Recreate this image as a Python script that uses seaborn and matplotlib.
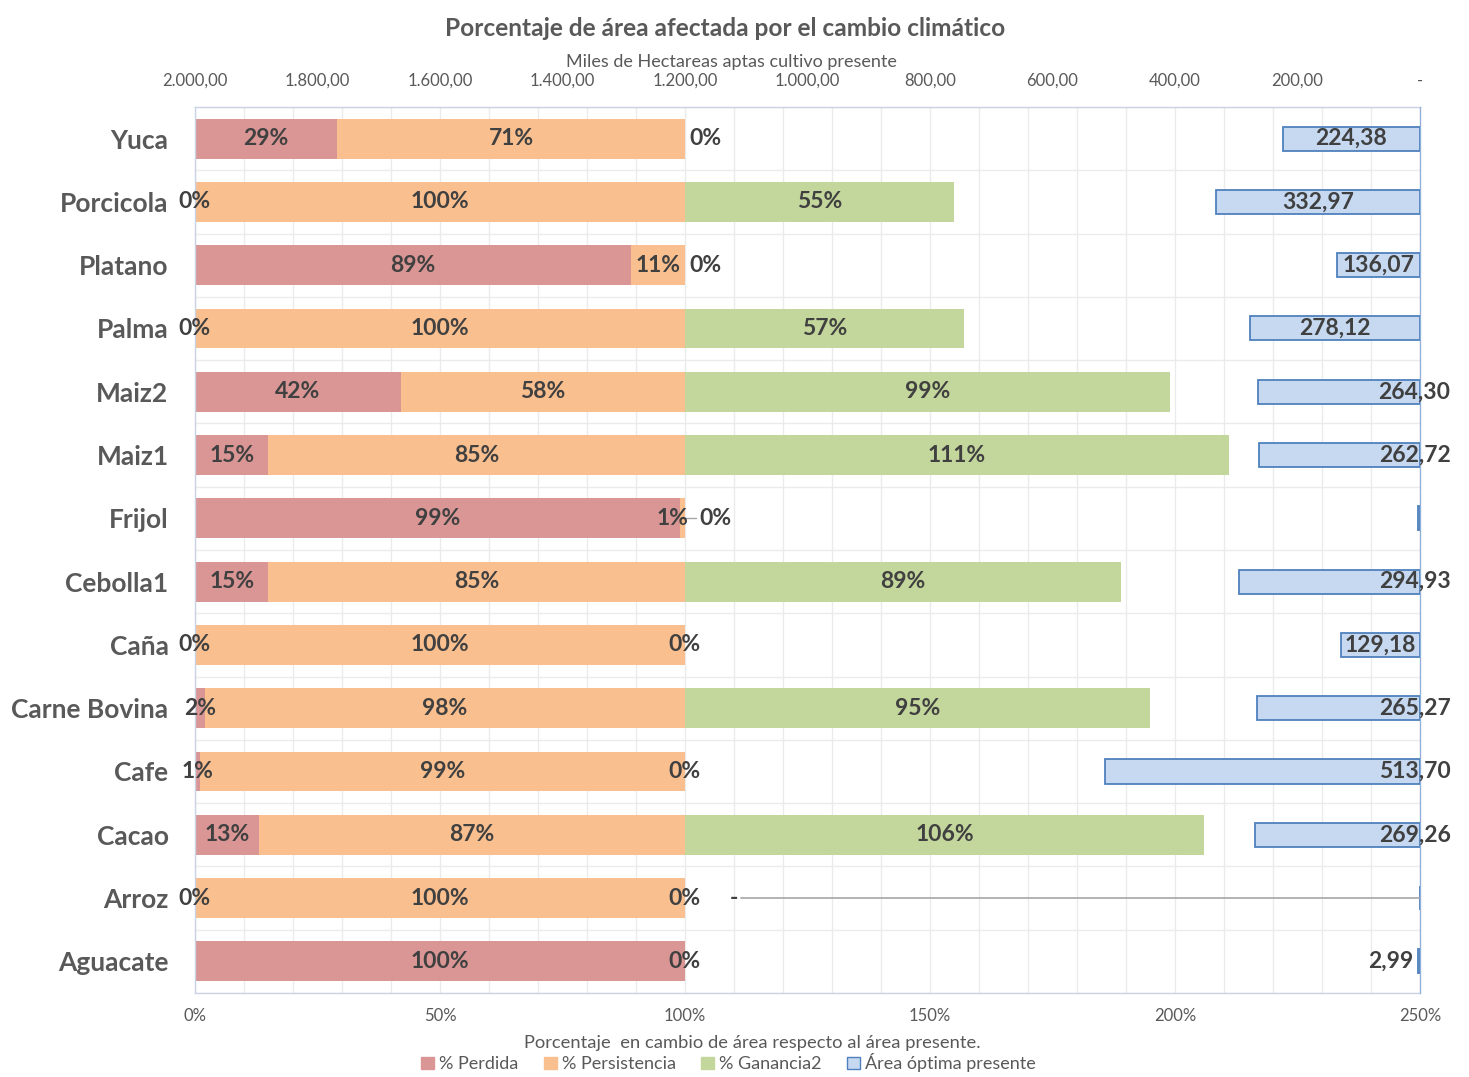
import matplotlib
matplotlib.use("Agg")
import matplotlib.pyplot as plt
import numpy as np
import pandas as pd
import seaborn as sns
from matplotlib.patches import Patch

# data
cultivos = ['Yuca', 'Porcicola', 'Platano', 'Palma', 'Maiz2', 'Maiz1', 'Frijol',
            'Cebolla1', 'Caña', 'Carne Bovina', 'Cafe', 'Cacao', 'Arroz', 'Aguacate']
perdida = [29, 0, 89, 0, 42, 15, 99, 15, 0, 2, 1, 13, 0, 100]
persistencia = [71, 100, 11, 100, 58, 85, 1, 85, 100, 98, 99, 87, 100, 0]
ganancia = [0, 55, 0, 57, 99, 111, 0, 89, 0, 95, 0, 106, 0, 0]
area_presente = [224.38, 332.97, 136.07, 278.12, 264.30, 262.72, 2.5,
                 294.93, 129.18, 265.27, 513.70, 269.26, 0.0, 2.99]

top_ticks = [2000, 1800, 1600, 1400, 1200, 1000, 800, 600, 400, 200, 0]
top_labels = ['2.000,00', '1.800,00', '1.600,00', '1.400,00', '1.200,00', '1.000,00',
              '800,00', '600,00', '400,00', '200,00', '-']
bottom_ticks = [0, 50, 100, 150, 200, 250]
bottom_labels = ['0%', '50%', '100%', '150%', '200%', '250%']

C_PERD = '#D99694'
C_PERS = '#F9BF8F'
C_GAN = '#C3D69B'
C_AREA = '#C6D9F1'
C_AREA_EDGE = '#4F81BD'
TXT = '#404040'
GRAY = '#595959'
FONT = ['Lato', 'DejaVu Sans']

sns.set_style('white')
plt.rcParams['font.family'] = FONT

df = pd.DataFrame({
    'cultivo': cultivos,
    'perdida': perdida,
    'persistencia': persistencia,
    'ganancia': ganancia,
    'area': area_presente,
})
df['c2'] = df['perdida'] + df['persistencia']
df['c3'] = df['c2'] + df['ganancia']

fig = plt.figure(figsize=(14.69, 10.77), dpi=100)
ax = fig.add_axes([0.1327, 0.078, 0.8339, 0.8227])

# stacked bars drawn as cumulative totals, back to front
bar_kw = dict(y='cultivo', orient='h', width=0.63, saturation=1, errorbar=None,
              linewidth=0, ax=ax)
sns.barplot(data=df, x='c3', color=C_GAN, **bar_kw)
sns.barplot(data=df, x='c2', color=C_PERS, **bar_kw)
sns.barplot(data=df, x='perdida', color=C_PERD, **bar_kw)

ax.set_xlim(0, 250)
ax.set_ylim(len(cultivos) - 0.5, -0.5)
ax.set_xticks(bottom_ticks)
ax.set_xticklabels(bottom_labels, fontsize=12, color=GRAY)
ax.set_xticks(np.arange(0, 251, 10), minor=True)
ax.set_yticks(np.arange(-0.5, len(cultivos), 1), minor=True)
ax.grid(which='minor', color='#EBEBEB', linewidth=1)
ax.grid(which='major', axis='x', color='#EBEBEB', linewidth=1)
ax.set_axisbelow(True)
ax.tick_params(which='both', length=0)
ax.tick_params(axis='x', pad=11)
ax.tick_params(axis='y', pad=19)
for t in ax.get_yticklabels():
    t.set_fontsize(19)
    t.set_fontweight('bold')
    t.set_color(GRAY)
ax.set_xlabel('')
ax.set_ylabel('')
for s in ax.spines.values():
    s.set_color('#C9D3E3')
    s.set_linewidth(1)

# labels on the stacked bars
lbl = dict(fontsize=16.5, fontweight='bold', color=TXT, va='center')
for i, row in df.iterrows():
    p, s, g = row['perdida'], row['persistencia'], row['ganancia']
    ax.text(p / 2, i, f'{p}%', ha='center', **lbl)
    if row['cultivo'] == 'Frijol':
        ax.text(p + s + 0.8, i, f'{s}%', ha='right', **lbl)
    elif s > 0:
        ax.text(p + s / 2, i, f'{s}%', ha='center', **lbl)
    if g > 0:
        ax.text(p + s + g / 2, i, f'{g}%', ha='center', **lbl)
    elif row['cultivo'] in ('Yuca', 'Platano'):
        ax.text(101, i, f'{g}%', ha='left', **lbl)
    elif row['cultivo'] == 'Frijol':
        ax.plot([100.3, 102.3], [i, i], color='#A6A6A6', linewidth=1)
        ax.text(103, i, f'{g}%', ha='left', **lbl)
    else:
        ax.text(100, i, f'{g}%', ha='center', **lbl)

# present area on a reversed top axis
ax2 = ax.twiny()
sns.barplot(data=df, y='cultivo', x='area', orient='h', width=0.38, saturation=1,
            errorbar=None, color=C_AREA, edgecolor=C_AREA_EDGE, linewidth=1.3, ax=ax2)
ax2.set_xlim(2000, 0)
ax2.set_ylim(len(cultivos) - 0.5, -0.5)
ax2.set_xticks(top_ticks)
ax2.set_xticklabels(top_labels, fontsize=12, color=GRAY)
ax2.tick_params(which='both', length=0, pad=13)
ax2.set_xlabel('')
ax2.set_ylabel('')
for s in ax2.spines.values():
    s.set_visible(False)
ax2.spines['right'].set_visible(True)
ax2.spines['right'].set_color('#8EB0DB')

centered = {'Yuca', 'Porcicola', 'Platano', 'Palma', 'Caña'}
for i, row in df.iterrows():
    name, v = row['cultivo'], row['area']
    txt = f'{v:.2f}'.replace('.', ',')
    if name in centered:
        ax2.text(v / 2, i, txt, ha='center', clip_on=False, **lbl)
    elif name == 'Aguacate':
        ax2.text(v + 8, i, txt, ha='right', clip_on=False, **lbl)
    elif name == 'Arroz':
        ax2.text(1120, i, '-', ha='center', clip_on=False, **lbl)
        ax2.plot([1108, 0], [i, i], color='#A6A6A6', linewidth=1.2)
    elif name == 'Frijol':
        pass
    else:
        ax2.text(-50, i, txt, ha='right', clip_on=False, **lbl)

fig.text(0.4935, 0.974, 'Porcentaje de área afectada por el cambio climático',
         ha='center', va='center', fontsize=17.6, fontweight='bold', color=GRAY)
fig.text(0.4977, 0.9424, 'Miles de Hectareas aptas cultivo presente',
         ha='center', va='center', fontsize=13, color=GRAY)
fig.text(0.512, 0.0316, 'Porcentaje  en cambio de área respecto al área presente.',
         ha='center', va='center', fontsize=13.2, color=GRAY)

handles = [
    Patch(facecolor=C_PERD, edgecolor=C_PERD, label='% Perdida'),
    Patch(facecolor=C_PERS, edgecolor=C_PERS, label='% Persistencia'),
    Patch(facecolor=C_GAN, edgecolor=C_GAN, label='% Ganancia2'),
    Patch(facecolor=C_AREA, edgecolor=C_AREA_EDGE, label='Área óptima presente'),
]
leg = fig.legend(handles=handles, loc='center', bbox_to_anchor=(0.496, 0.013), ncol=4,
                 frameon=False, fontsize=13, handlelength=0.7, handleheight=0.7,
                 handletextpad=0.3, columnspacing=1.4, borderaxespad=0)
for t in leg.get_texts():
    t.set_color(GRAY)

fig.savefig('out.png', dpi=100)
